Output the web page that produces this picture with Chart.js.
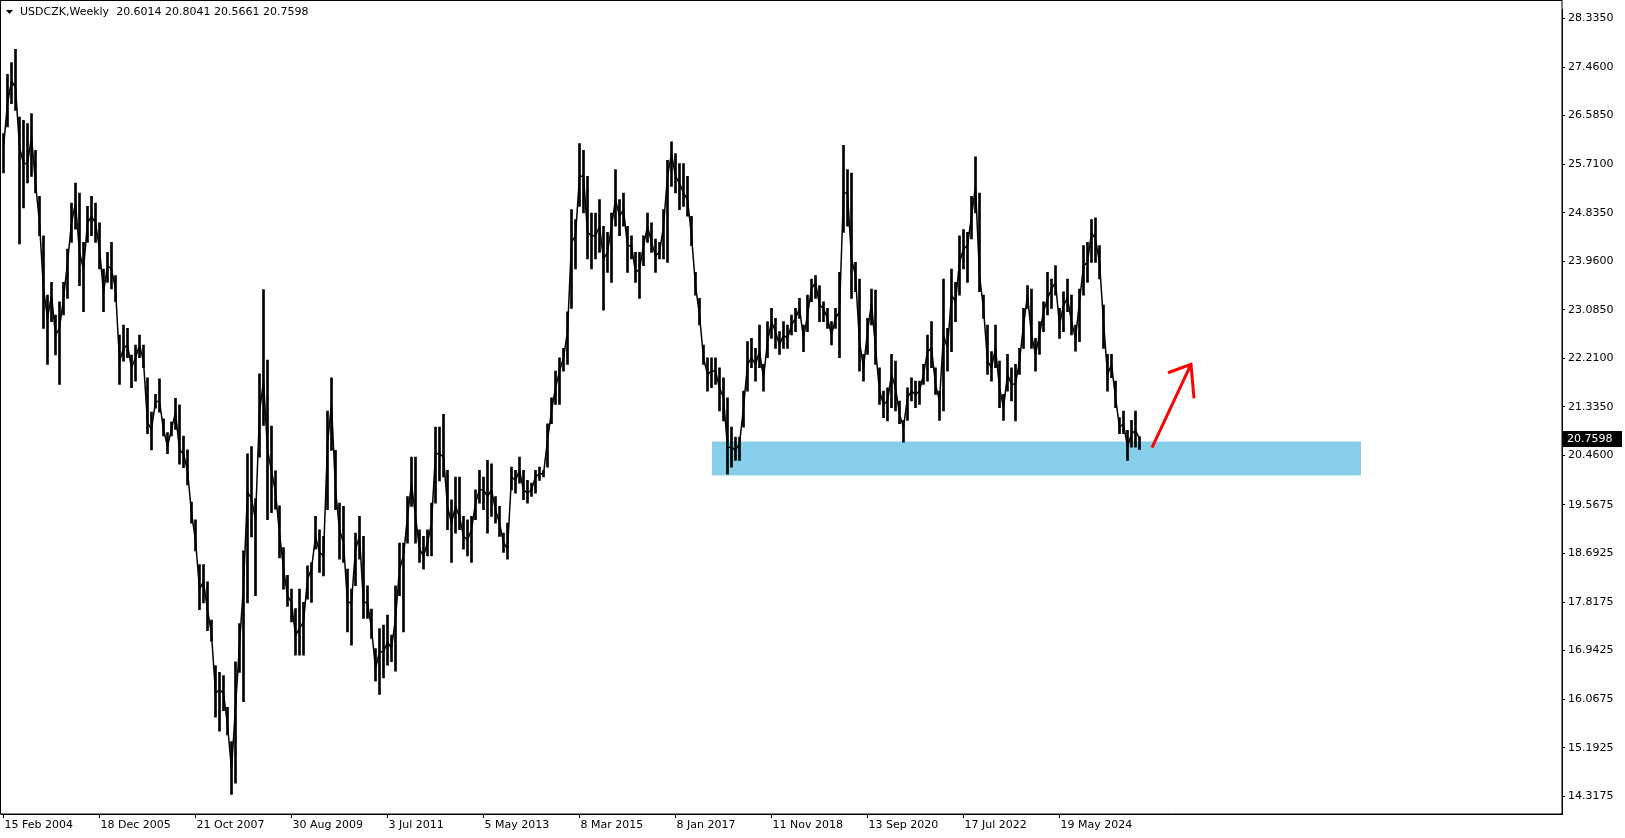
<!DOCTYPE html>
<html>
<head>
<meta charset="utf-8">
<title>USDCZK, Weekly</title>
<script src="https://cdn.jsdelivr.net/npm/chart.js@4.4.1/dist/chart.umd.min.js"></script>
<style>
  html, body { margin: 0; padding: 0; background: #ffffff; }
</style>
</head>
<body>
<canvas class="usdczk-chart" width="1625" height="838"></canvas>
<script>
// Weekly USDCZK in 4-week steps starting 15 Feb 2004
const stepWeeks = 4;

const highs = [
  26.26, 27.33, 27.54, 27.78, 26.56, 26.50, 26.44, 26.62, 25.96, 25.13, 24.42, 23.35,
  23.58, 22.99, 23.23, 23.58, 24.18, 25.01, 25.37, 25.19, 24.30, 24.95, 25.13, 25.01,
  24.65, 23.82, 24.12, 24.30, 23.70, 22.63, 22.81, 22.75, 22.27, 22.45, 22.63, 22.45,
  21.86, 21.24, 21.56, 21.84, 21.12, 20.87, 21.06, 21.49, 21.37, 20.81, 20.56, 19.62,
  19.30, 18.49, 18.49, 18.18, 17.49, 16.67, 16.55, 16.49, 15.92, 15.30, 16.74, 17.43,
  18.74, 20.49, 20.62, 19.68, 21.93, 23.45, 22.18, 20.99, 20.18, 19.55, 18.80, 18.30,
  18.05, 17.70, 18.05, 17.81, 18.47, 18.53, 19.36, 19.12, 19.00, 21.26, 21.86, 20.55,
  19.60, 19.54, 18.41, 18.05, 19.06, 19.36, 19.00, 18.11, 17.69, 16.98, 17.34, 17.40,
  17.58, 17.22, 18.11, 18.88, 18.88, 19.72, 20.43, 20.43, 19.12, 19.00, 19.12, 19.60,
  20.97, 20.97, 21.20, 20.19, 19.66, 20.07, 20.07, 19.36, 19.30, 19.36, 19.84, 20.19,
  20.07, 20.37, 20.31, 19.72, 19.54, 19.06, 19.24, 20.25, 20.19, 20.43, 20.19, 20.01,
  19.96, 20.19, 20.25, 20.19, 21.03, 21.50, 21.98, 22.22, 22.39, 23.05, 24.89, 24.71,
  26.08, 25.96, 25.49, 24.83, 24.83, 25.07, 24.59, 24.48, 24.83, 25.61, 25.07, 25.19,
  24.59, 24.42, 24.12, 24.12, 24.42, 24.83, 24.65, 24.36, 24.30, 24.89, 25.78, 26.11,
  25.90, 25.72, 25.72, 25.49, 24.77, 23.76, 23.29, 22.45, 22.22, 22.22, 22.22, 22.04,
  21.86, 21.50, 20.97, 20.79, 20.79, 21.62, 22.51, 22.57, 22.39, 22.81, 22.10, 22.87,
  23.11, 22.93, 22.69, 22.87, 22.81, 22.99, 23.11, 23.29, 22.81, 23.35, 23.64, 23.70,
  23.52, 23.23, 23.11, 22.87, 23.11, 23.76, 26.05, 25.61, 25.55, 23.94, 23.64, 22.28,
  22.93, 23.46, 23.44, 22.04, 21.62, 21.68, 22.28, 22.16, 21.44, 21.09, 21.68, 21.86,
  21.80, 21.80, 22.10, 22.63, 22.87, 22.04, 21.62, 23.64, 22.75, 23.82, 23.58, 24.42,
  24.53, 24.48, 25.13, 25.84, 25.19, 23.35, 22.81, 22.33, 22.81, 22.16, 21.56, 22.28,
  22.04, 22.10, 22.39, 23.11, 23.52, 23.46, 22.57, 22.87, 23.23, 23.76, 23.64, 23.88,
  23.11, 23.41, 23.64, 23.35, 22.81, 23.46, 24.24, 24.30, 24.71, 24.74, 24.24, 23.17,
  22.28, 22.28, 21.80, 21.14, 21.26, 20.91, 21.09, 21.26, 20.80
];

const lows = [
  25.55, 26.38, 26.80, 26.68, 24.27, 24.92, 25.37, 25.49, 25.19, 24.42, 22.75, 22.10,
  22.87, 22.27, 21.74, 22.99, 23.29, 24.30, 24.54, 23.52, 23.05, 24.30, 24.42, 24.30,
  23.82, 23.05, 23.58, 23.46, 23.23, 21.74, 22.16, 22.22, 21.68, 21.80, 22.22, 22.04,
  20.85, 20.56, 21.31, 21.24, 20.81, 20.49, 20.81, 20.93, 20.30, 20.24, 19.93, 19.24,
  18.74, 17.68, 17.80, 17.30, 17.11, 15.74, 15.49, 15.86, 15.42, 14.35, 14.55, 16.55,
  16.02, 17.80, 18.99, 17.93, 20.43, 21.00, 19.30, 19.43, 19.49, 18.61, 18.05, 17.74,
  17.46, 16.86, 16.86, 16.86, 17.87, 17.81, 18.77, 18.35, 18.29, 19.48, 20.55, 19.48,
  18.59, 18.53, 17.28, 17.04, 18.11, 18.59, 17.52, 17.52, 17.16, 16.39, 16.15, 16.45,
  16.68, 16.74, 16.57, 17.93, 17.28, 18.88, 19.54, 18.88, 18.53, 18.41, 18.65, 18.65,
  19.60, 20.00, 20.07, 19.12, 18.53, 19.06, 19.12, 18.77, 18.65, 18.53, 19.30, 19.60,
  19.48, 19.06, 19.36, 19.24, 19.00, 18.71, 18.59, 19.84, 19.78, 19.96, 19.66, 19.60,
  19.72, 19.78, 20.01, 20.07, 20.25, 21.03, 21.38, 21.38, 21.98, 22.10, 23.11, 23.82,
  24.95, 24.83, 24.00, 23.82, 24.00, 24.12, 23.08, 23.76, 23.58, 24.59, 24.42, 24.59,
  23.76, 24.00, 23.58, 23.29, 23.88, 24.30, 24.12, 23.76, 24.00, 24.00, 23.94, 25.31,
  25.19, 24.89, 24.95, 24.77, 24.24, 23.35, 22.81, 22.10, 21.62, 21.68, 21.74, 21.26,
  21.08, 20.12, 20.25, 20.37, 20.37, 20.97, 21.62, 22.04, 21.80, 22.04, 21.62, 22.22,
  22.57, 22.39, 22.28, 22.39, 22.39, 22.63, 22.69, 22.93, 22.33, 22.69, 23.23, 23.29,
  22.87, 22.87, 22.75, 22.45, 22.75, 22.22, 24.48, 24.59, 23.29, 23.41, 21.98, 21.80,
  22.28, 22.81, 22.10, 21.38, 21.14, 21.08, 21.32, 21.26, 21.03, 20.70, 21.09, 21.44,
  21.32, 21.38, 21.74, 21.80, 22.04, 21.56, 21.09, 21.26, 21.98, 22.33, 22.87, 23.35,
  23.82, 23.58, 24.36, 24.83, 23.41, 22.93, 21.92, 21.80, 22.04, 21.32, 21.09, 21.62,
  21.44, 21.08, 21.92, 22.39, 23.11, 22.39, 21.98, 22.28, 22.69, 22.99, 23.11, 23.35,
  22.57, 22.69, 23.05, 22.63, 22.34, 22.51, 23.35, 23.58, 23.94, 23.94, 23.64, 22.39,
  21.62, 21.86, 21.32, 20.85, 20.85, 20.37, 20.61, 20.61, 20.57
];

const closes = [
  26.02, 26.80, 27.21, 27.09, 26.02, 25.72, 25.72, 26.20, 25.37, 24.65, 23.46, 22.93,
  23.35, 22.63, 22.75, 23.29, 23.94, 24.65, 25.01, 24.12, 23.82, 24.65, 24.77, 24.65,
  24.18, 23.40, 23.88, 23.82, 23.46, 22.16, 22.39, 22.45, 22.04, 22.22, 22.45, 22.16,
  21.05, 20.93, 21.43, 21.43, 20.93, 20.62, 20.93, 21.24, 20.56, 20.49, 20.18, 19.43,
  18.93, 18.05, 18.18, 17.68, 17.24, 16.17, 16.24, 16.17, 15.61, 14.80, 15.92, 17.05,
  18.11, 19.80, 19.68, 19.30, 21.24, 21.80, 20.56, 20.18, 19.80, 19.05, 18.43, 17.93,
  17.81, 17.22, 17.34, 17.46, 18.23, 18.41, 19.00, 18.71, 18.65, 20.67, 21.38, 19.84,
  19.12, 18.88, 17.81, 17.81, 18.77, 19.00, 17.81, 17.81, 17.34, 16.62, 16.92, 16.92,
  17.10, 16.98, 17.52, 18.41, 18.65, 19.36, 19.95, 19.36, 18.77, 18.65, 18.88, 19.24,
  20.49, 20.49, 20.43, 19.54, 19.24, 19.54, 19.36, 19.00, 18.94, 19.12, 19.60, 19.84,
  19.84, 19.72, 19.84, 19.48, 19.24, 18.89, 18.77, 20.07, 20.01, 20.19, 19.84, 19.78,
  19.84, 20.07, 20.13, 20.13, 20.73, 21.26, 21.68, 21.98, 22.22, 22.69, 24.30, 24.42,
  25.49, 25.49, 24.48, 24.42, 24.42, 24.59, 24.00, 24.12, 24.59, 25.07, 24.77, 24.89,
  24.24, 24.24, 23.76, 23.82, 24.24, 24.59, 24.30, 24.06, 24.12, 24.59, 25.49, 25.90,
  25.49, 25.37, 25.19, 25.07, 24.42, 23.52, 22.99, 22.22, 21.92, 21.98, 21.98, 21.68,
  21.50, 20.60, 20.61, 20.55, 20.67, 21.32, 22.10, 22.22, 22.10, 22.33, 21.86, 22.51,
  22.87, 22.69, 22.45, 22.63, 22.57, 22.81, 22.93, 23.11, 22.57, 22.99, 23.46, 23.58,
  23.17, 23.11, 22.93, 22.63, 22.93, 23.05, 25.19, 25.19, 24.00, 23.70, 22.51, 22.04,
  22.69, 23.20, 22.40, 21.62, 21.38, 21.44, 21.92, 21.68, 21.20, 20.97, 21.50, 21.62,
  21.56, 21.62, 21.92, 22.33, 22.39, 21.74, 21.44, 22.63, 22.39, 23.35, 23.23, 23.94,
  24.18, 24.24, 24.77, 25.31, 23.70, 23.11, 22.16, 22.04, 22.39, 21.68, 21.32, 21.92,
  21.74, 21.75, 22.16, 22.81, 23.35, 22.63, 22.28, 22.63, 23.05, 23.29, 23.46, 23.58,
  22.81, 23.17, 23.29, 22.87, 22.57, 23.23, 23.88, 23.94, 24.48, 24.36, 23.94, 22.87,
  21.92, 22.10, 21.50, 20.97, 21.03, 20.61, 20.85, 20.91, 20.76
];

// Time axis labels (weeks after 15 Feb 2004)
const dateTickWeeks = [0, 96, 192, 288, 384, 480, 576, 672, 768, 864, 960, 1056];
const dateLabels = [
  "15 Feb 2004", "18 Dec 2005", "21 Oct 2007", "30 Aug 2009", "3 Jul 2011", "5 May 2013",
  "8 Mar 2015", "8 Jan 2017", "11 Nov 2018", "13 Sep 2020", "17 Jul 2022", "19 May 2024"
];

// Price axis labels
const priceTicks = [28.335, 27.46, 26.585, 25.71, 24.835, 23.96, 23.085, 22.21, 21.335,
  20.46, 19.5675, 18.6925, 17.8175, 16.9425, 16.0675, 15.1925, 14.3175];
const priceLabels = ["28.3350", "27.4600", "26.5850", "25.7100", "24.8350", "23.9600",
  "23.0850", "22.2100", "21.3350", "20.4600", "19.5675", "18.6925", "17.8175", "16.9425",
  "16.0675", "15.1925", "14.3175"];

// Last weekly bar: open, high, low, close
const lastBar = [20.6014, 20.8041, 20.5661, 20.7598];
const symbolName = "USDCZK,Weekly";

// Support zone drawn on the chart (weeks, prices)
const zoneWeeks = [708.5, 1357.5];
const zonePrices = [20.10, 20.71];

// Red arrow: tail, tip, left barb, lower barb (weeks, prices)
const arrowWeeks = [1148.5, 1187.5, 1164.5, 1190.5];
const arrowPrices = [20.60, 22.10, 21.95, 21.49];

const axisFont = { family: "DejaVu Sans", size: 11 };

// Overlay: zone, arrow, frame, header and price tag
const overlayPlugin = {
  id: "overlay",
  beforeDatasetsDraw(chart) {
    const { ctx, scales } = chart;
    const x = scales.x;
    const y = scales.y;
    const left = x.getPixelForValue(zoneWeeks[0]);
    const right = x.getPixelForValue(zoneWeeks[1]);
    const top = y.getPixelForValue(zonePrices[1]);
    const bottom = y.getPixelForValue(zonePrices[0]);
    ctx.save();
    ctx.fillStyle = "#87ceeb";
    ctx.fillRect(left, top, right - left, bottom - top);
    ctx.restore();
  },
  afterDatasetsDraw(chart) {
    const { ctx, scales } = chart;
    const px = arrowWeeks.map((w) => scales.x.getPixelForValue(w));
    const py = arrowPrices.map((p) => scales.y.getPixelForValue(p));
    ctx.save();
    ctx.strokeStyle = "#ff0000";
    ctx.lineWidth = 3;
    ctx.lineCap = "butt";
    ctx.beginPath();
    ctx.moveTo(px[0], py[0]);
    ctx.lineTo(px[1], py[1]);
    ctx.moveTo(px[2], py[2]);
    ctx.lineTo(px[1], py[1]);
    ctx.lineTo(px[3], py[3]);
    ctx.stroke();
    ctx.restore();
  },
  afterDraw(chart) {
    const { ctx, chartArea, scales } = chart;
    ctx.save();

    // chart frame
    ctx.strokeStyle = "#000000";
    ctx.lineWidth = 1;
    ctx.strokeRect(0.5, 0.5, Math.round(chartArea.right) - 0.5, Math.round(chartArea.bottom) - 0.5);

    // header: symbol and last OHLC
    ctx.fillStyle = "#000000";
    ctx.beginPath();
    ctx.moveTo(6, 10);
    ctx.lineTo(13, 10);
    ctx.lineTo(9.5, 14);
    ctx.closePath();
    ctx.fill();
    ctx.font = "11px 'DejaVu Sans'";
    ctx.textBaseline = "middle";
    ctx.textAlign = "left";
    const ohlc = lastBar.map((v) => v.toFixed(4)).join(" ");
    ctx.fillText(symbolName + "  " + ohlc, 20, 12.5);

    // current price tag on the price axis
    const yTag = Math.round(scales.y.getPixelForValue(lastBar[3]));
    ctx.fillRect(chartArea.right + 1, yTag - 8, 59, 16);
    ctx.fillStyle = "#ffffff";
    ctx.fillText(lastBar[3].toFixed(4), chartArea.right + 5, yTag);
    ctx.restore();
  },
};

const ctx = document.querySelector(".usdczk-chart").getContext("2d");

const closePoints = closes.map((c, i) => ({ x: i * stepWeeks, y: c }));
const rangeBars = highs.map((h, i) => ({ x: i * stepWeeks, y: [lows[i], h] }));

const usdczkChart = new Chart(ctx, {
  type: "bar",
  data: {
    datasets: [
      {
        type: "line",
        label: "Close",
        data: closePoints,
        borderColor: "#000000",
        borderWidth: 1.5,
        pointRadius: 0,
        tension: 0,
        order: 1,
      },
      {
        type: "bar",
        label: "Range",
        data: rangeBars,
        backgroundColor: "#000000",
        borderWidth: 0,
        barThickness: 2,
        grouped: false,
        order: 2,
      },
    ],
  },
  options: {
    responsive: false,
    animation: false,
    layout: { padding: { left: 1, top: 1, right: 0, bottom: 0 } },
    plugins: {
      legend: { display: false },
      tooltip: { enabled: false },
    },
    scales: {
      x: {
        type: "linear",
        min: -2.5,
        max: 1558.5,
        offset: false,
        afterBuildTicks: (axis) => {
          axis.ticks = dateTickWeeks.map((w) => ({ value: w }));
        },
        afterFit: (axis) => {
          axis.height = 24;
        },
        ticks: {
          autoSkip: false,
          maxRotation: 0,
          align: "start",
          labelOffset: 1,
          padding: 1,
          color: "#000000",
          font: axisFont,
          callback: (value, index) => dateLabels[index],
        },
        grid: {
          display: true,
          drawOnChartArea: false,
          drawTicks: true,
          tickLength: 4,
          offset: false,
          color: "#000000",
        },
        border: { display: true, color: "#000000" },
      },
      y: {
        type: "linear",
        position: "right",
        min: 13.9965,
        max: 28.4955,
        afterBuildTicks: (axis) => {
          axis.ticks = priceTicks.map((p) => ({ value: p }));
        },
        afterFit: (axis) => {
          axis.width = 63;
        },
        ticks: {
          autoSkip: false,
          padding: 3,
          color: "#000000",
          font: axisFont,
          callback: (value, index) => priceLabels[index],
        },
        grid: {
          display: true,
          drawOnChartArea: false,
          drawTicks: true,
          tickLength: 3,
          color: "#000000",
        },
        border: { display: true, color: "#000000" },
      },
    },
  },
  plugins: [overlayPlugin],
});
</script>
</body>
</html>
